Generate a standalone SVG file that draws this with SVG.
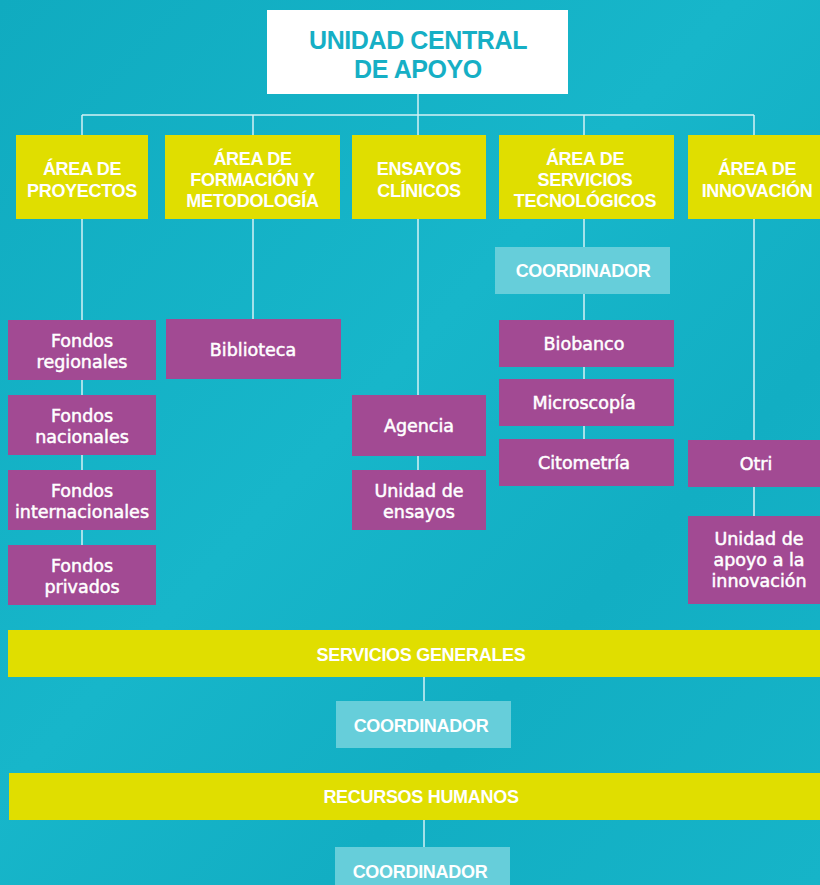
<svg xmlns="http://www.w3.org/2000/svg" width="820" height="885" viewBox="0 0 820 885">
  <defs>
    <linearGradient id="bg" x1="0" y1="0" x2="1" y2="1">
      <stop offset="0" stop-color="#10abc0"/>
      <stop offset="0.45" stop-color="#17b6ca"/>
      <stop offset="0.7" stop-color="#12aec3"/>
      <stop offset="1" stop-color="#16b4c8"/>
    </linearGradient>
    <style>
      .conn { stroke: #d4f1f5; stroke-width: 1.5; fill: none; }
      .yellow { fill: #e0de00; }
      .purple { fill: #a24a93; }
      .coord { fill: #66ceda; }
      .ytxt { font-family: "Liberation Sans", Arial, sans-serif; font-weight: bold; font-size: 18px; fill: #ffffff; text-anchor: middle; letter-spacing: -0.3px; }
      .ptxt { font-family: "DejaVu Sans", Verdana, sans-serif; font-size: 17.5px; fill: #ffffff; stroke: #ffffff; stroke-width: 0.5px; text-anchor: middle; }
      .ttl { font-family: "Liberation Sans", Arial, sans-serif; font-weight: bold; font-size: 25px; fill: #16afc5; text-anchor: middle; letter-spacing: -0.4px; }
    </style>
  </defs>
  <rect x="0" y="0" width="820" height="885" fill="url(#bg)"/>

  <g id="connectors">
    <path class="conn" d="M418 94 V115 M82 115 H754 M82 115 V135 M253 115 V135 M418 115 V135 M584 115 V135 M754 115 V135"/>
    <path class="conn" d="M82 219 V545 M253 219 V319 M418 219 V470 M584 219 V439 M754 219 V516"/>
    <path class="conn" d="M424 677 V701 M424 820 V847"/>
  </g>

  <g id="unidad-central">
    <rect x="267" y="10" width="301" height="84" fill="#ffffff"/>
    <text class="ttl" x="418" y="49">UNIDAD CENTRAL</text>
    <text class="ttl" x="418" y="78">DE APOYO</text>
  </g>

  <g id="area-proyectos">
    <rect class="yellow" x="16" y="135" width="132" height="84"/>
    <text class="ytxt" x="82" y="175">ÁREA DE</text>
    <text class="ytxt" x="82" y="197">PROYECTOS</text>
  </g>
  <g id="area-formacion">
    <rect class="yellow" x="165" y="135" width="175" height="84"/>
    <text class="ytxt" x="252.5" y="165">ÁREA DE</text>
    <text class="ytxt" x="252.5" y="186">FORMACIÓN Y</text>
    <text class="ytxt" x="252.5" y="207">METODOLOGÍA</text>
  </g>
  <g id="ensayos-clinicos">
    <rect class="yellow" x="352" y="135" width="134" height="84"/>
    <text class="ytxt" x="419" y="175">ENSAYOS</text>
    <text class="ytxt" x="419" y="197">CLÍNICOS</text>
  </g>
  <g id="area-servicios">
    <rect class="yellow" x="499" y="135" width="175" height="84"/>
    <text class="ytxt" x="585" y="165">ÁREA DE</text>
    <text class="ytxt" x="585" y="186">SERVICIOS</text>
    <text class="ytxt" x="585" y="207">TECNOLÓGICOS</text>
  </g>
  <g id="area-innovacion">
    <rect class="yellow" x="688" y="135" width="140" height="84"/>
    <text class="ytxt" x="757" y="175">ÁREA DE</text>
    <text class="ytxt" x="757" y="197">INNOVACIÓN</text>
  </g>

  <g id="fondos-regionales">
    <rect class="purple" x="8" y="320" width="148" height="60"/>
    <text class="ptxt" x="82" y="347">Fondos</text>
    <text class="ptxt" x="82" y="368">regionales</text>
  </g>
  <g id="fondos-nacionales">
    <rect class="purple" x="8" y="395" width="148" height="60"/>
    <text class="ptxt" x="82" y="422">Fondos</text>
    <text class="ptxt" x="82" y="443">nacionales</text>
  </g>
  <g id="fondos-internacionales">
    <rect class="purple" x="8" y="470" width="148" height="60"/>
    <text class="ptxt" x="82" y="497">Fondos</text>
    <text class="ptxt" x="82" y="518">internacionales</text>
  </g>
  <g id="fondos-privados">
    <rect class="purple" x="8" y="545" width="148" height="60"/>
    <text class="ptxt" x="82" y="572">Fondos</text>
    <text class="ptxt" x="82" y="593">privados</text>
  </g>

  <g id="biblioteca">
    <rect class="purple" x="166" y="319" width="175" height="60"/>
    <text class="ptxt" x="253" y="356">Biblioteca</text>
  </g>

  <g id="agencia">
    <rect class="purple" x="352" y="395" width="134" height="61"/>
    <text class="ptxt" x="419" y="432">Agencia</text>
  </g>
  <g id="unidad-ensayos">
    <rect class="purple" x="352" y="470" width="134" height="60"/>
    <text class="ptxt" x="419" y="497">Unidad de</text>
    <text class="ptxt" x="419" y="518">ensayos</text>
  </g>

  <g id="coordinador-servicios">
    <rect class="coord" x="495" y="247" width="175" height="47"/>
    <text class="ytxt" x="583" y="277">COORDINADOR</text>
  </g>
  <g id="biobanco">
    <rect class="purple" x="499" y="320" width="175" height="47"/>
    <text class="ptxt" x="584" y="350">Biobanco</text>
  </g>
  <g id="microscopia">
    <rect class="purple" x="499" y="379" width="175" height="47"/>
    <text class="ptxt" x="584" y="409">Microscopía</text>
  </g>
  <g id="citometria">
    <rect class="purple" x="499" y="439" width="175" height="47"/>
    <text class="ptxt" x="584" y="469">Citometría</text>
  </g>

  <g id="otri">
    <rect class="purple" x="688" y="440" width="140" height="47"/>
    <text class="ptxt" x="756" y="470">Otri</text>
  </g>
  <g id="unidad-apoyo-innovacion">
    <rect class="purple" x="688" y="516" width="140" height="88"/>
    <text class="ptxt" x="759" y="545">Unidad de</text>
    <text class="ptxt" x="759" y="566">apoyo a la</text>
    <text class="ptxt" x="759" y="587">innovación</text>
  </g>

  <g id="servicios-generales">
    <rect class="yellow" x="8" y="630" width="820" height="47"/>
    <text class="ytxt" x="421" y="661">SERVICIOS GENERALES</text>
  </g>
  <g id="coordinador-sg">
    <rect class="coord" x="336" y="701" width="175" height="47"/>
    <text class="ytxt" x="421" y="732">COORDINADOR</text>
  </g>

  <g id="recursos-humanos">
    <rect class="yellow" x="9" y="773" width="820" height="47"/>
    <text class="ytxt" x="421" y="803">RECURSOS HUMANOS</text>
  </g>
  <g id="coordinador-rh">
    <rect class="coord" x="335" y="847" width="175" height="50"/>
    <text class="ytxt" x="420" y="878">COORDINADOR</text>
  </g>
</svg>
